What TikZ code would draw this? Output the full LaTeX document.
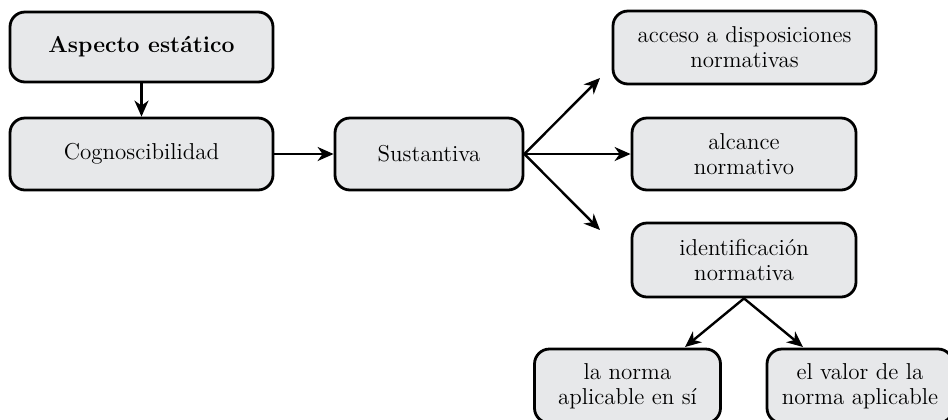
\documentclass[tikz,border=0pt]{standalone}
\usetikzlibrary{arrows.meta}
\definecolor{boxfill}{RGB}{231,232,234}
\tikzset{
  box/.style={draw=black, line width=1.4pt, fill=boxfill, rounded corners=7.5pt,
    align=center, inner sep=0pt, font=\fontsize{11.5}{12.5}\selectfont},
  arr/.style={line width=1.2pt, -{Stealth[length=8pt,width=7pt,inset=2.5pt]}}
}
\begin{document}
\begin{tikzpicture}[x=0.5pt,y=-0.5pt]
\useasboundingbox (0,0) rectangle (948,419);
\node[box, minimum width=131.5pt, minimum height=35pt] (asp) at (141.5,47) {\textbf{Aspecto estático}};
\node[box, minimum width=131.5pt, minimum height=36pt] (cog) at (141.5,154) {Cognoscibilidad};
\node[box, minimum width=94pt, minimum height=36pt] (sus) at (429,154) {Sustantiva};
\node[box, minimum width=131.5pt, minimum height=36.5pt] (acc) at (744.5,47.5) {acceso a disposiciones\\normativas};
\node[box, minimum width=112pt, minimum height=36pt] (alc) at (744,154) {alcance\\normativo};
\node[box, minimum width=112pt, minimum height=37pt] (ide) at (744,260) {identificación\\normativa};
\node[box, minimum width=93pt, minimum height=37pt] (nor) at (627.5,386) {la norma\\aplicable en sí};
\node[box, minimum width=93pt, minimum height=37pt] (val) at (860,386) {el valor de la\\norma aplicable};
\coordinate (up) at (600,78);
\coordinate (dn) at (600,230);
\coordinate (nt) at (685,347);
\coordinate (vt) at (803,347);
\draw[arr] (asp) -- (cog);
\draw[arr] (cog) -- (sus);
\draw[arr] (sus.east) -- (up);
\draw[arr] (sus.east) -- (alc);
\draw[arr] (sus.east) -- (dn);
\draw[arr] (ide.south) -- (nt);
\draw[arr] (ide.south) -- (vt);
\end{tikzpicture}
\end{document}
